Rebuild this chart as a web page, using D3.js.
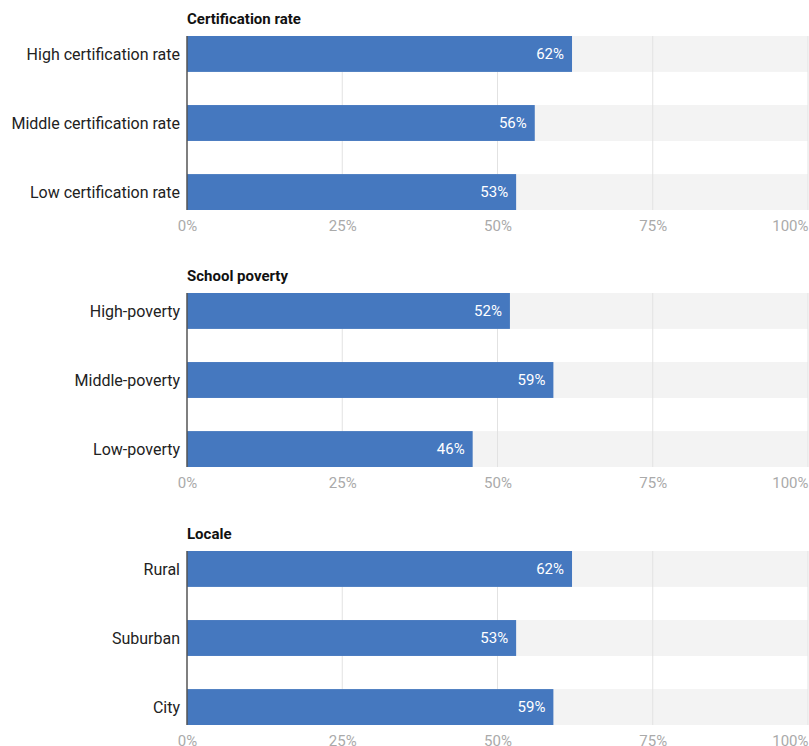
<!DOCTYPE html>
<html>
<head>
<meta charset="utf-8">
<script src="https://cdn.jsdelivr.net/npm/d3@7.9.0/dist/d3.min.js"></script>
<style>
  body { margin: 0; background: #fff; }
  svg { display: block; font-family: Roboto, "Noto Sans", sans-serif; }
</style>
</head>
<body>
<svg id="chart" width="809" height="746"></svg>
<script>
// ── data ──────────────────────────────────────────────
const panelTitles = ['Certification rate', 'School poverty', 'Locale'];

const certCategories = ['High certification rate', 'Middle certification rate', 'Low certification rate'];
const certValues = [62, 56, 53];

const povertyCategories = ['High-poverty', 'Middle-poverty', 'Low-poverty'];
const povertyValues = [52, 59, 46];

const localeCategories = ['Rural', 'Suburban', 'City'];
const localeValues = [62, 53, 59];

const tickValues = [0, 25, 50, 75, 100];

const panels = [
  { title: panelTitles[0], cats: certCategories, vals: certValues },
  { title: panelTitles[1], cats: povertyCategories, vals: povertyValues },
  { title: panelTitles[2], cats: localeCategories, vals: localeValues }
];

// ── layout ────────────────────────────────────────────
const svg = d3.select('#chart');
const left = 187, right = 808;
const panelTop = [36, 293, 551];
const plotH = 174;

const x = d3.scaleLinear().domain([0, 100]).range([left, right]);

panels.forEach((p, i) => {
  const top = panelTop[i];
  const g = svg.append('g');

  const y = d3.scaleBand()
    .domain(p.cats)
    .range([top, top + plotH])
    .paddingInner(0.48)
    .paddingOuter(0);

  const rows = p.cats.map((c, j) => ({ cat: c, val: p.vals[j] }));

  // background track
  g.selectAll('rect.track')
    .data(rows)
    .join('rect')
      .attr('class', 'track')
      .attr('x', x(0))
      .attr('y', d => y(d.cat))
      .attr('width', x(100) - x(0))
      .attr('height', y.bandwidth())
      .attr('fill', '#f3f3f3');

  // gridlines
  g.selectAll('line.grid')
    .data(tickValues.slice(1))
    .join('line')
      .attr('class', 'grid')
      .attr('x1', d => x(d)).attr('x2', d => x(d))
      .attr('y1', top).attr('y2', top + plotH)
      .attr('stroke', '#e2e2e2')
      .attr('stroke-width', 1);

  // bars
  g.selectAll('rect.bar')
    .data(rows)
    .join('rect')
      .attr('class', 'bar')
      .attr('x', x(0))
      .attr('y', d => y(d.cat))
      .attr('width', d => x(d.val) - x(0))
      .attr('height', y.bandwidth())
      .attr('fill', '#4578bf');

  // value labels
  g.selectAll('text.val')
    .data(rows)
    .join('text')
      .attr('class', 'val')
      .attr('x', d => x(d.val) - 8)
      .attr('y', d => y(d.cat) + y.bandwidth() / 2)
      .attr('dy', '0.35em')
      .attr('text-anchor', 'end')
      .attr('fill', '#fff')
      .attr('font-size', 15)
      .text(d => d.val + '%');

  // category labels
  g.selectAll('text.cat')
    .data(rows)
    .join('text')
      .attr('class', 'cat')
      .attr('x', left - 7)
      .attr('y', d => y(d.cat) + y.bandwidth() / 2)
      .attr('dy', '0.35em')
      .attr('text-anchor', 'end')
      .attr('fill', '#222')
      .attr('font-size', 16)
      .text(d => d.cat);

  // baseline
  g.append('line')
    .attr('x1', x(0)).attr('x2', x(0))
    .attr('y1', top).attr('y2', top + plotH)
    .attr('stroke', '#555')
    .attr('stroke-width', 1.5);

  // title
  g.append('text')
    .attr('x', left)
    .attr('y', top - 12)
    .attr('font-size', 15)
    .attr('font-weight', 'bold')
    .attr('fill', '#111')
    .text(p.title);

  // x axis
  const axis = g.append('g')
    .attr('transform', `translate(0,${top + plotH + 7})`)
    .call(d3.axisBottom(x).tickValues(tickValues).tickSize(0).tickFormat(d => d + '%'));
  axis.select('.domain').remove();
  axis.selectAll('text')
    .attr('fill', '#aaa')
    .attr('font-size', 15)
    .attr('font-family', 'Roboto, sans-serif');
  axis.selectAll('.tick text')
    .filter(d => d === 100)
    .attr('text-anchor', 'end')
    .attr('dx', 0);
});
</script>
</body>
</html>
